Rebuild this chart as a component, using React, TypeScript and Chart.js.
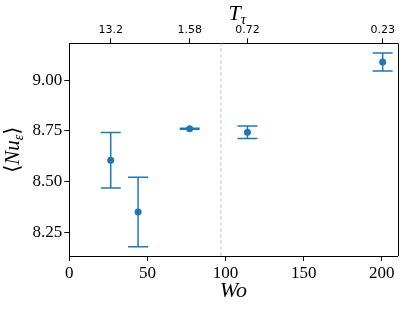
import React, { useEffect, useRef } from "react";
import { Chart, registerables } from "chart.js";

Chart.register(...registerables);

const woValues = [26.5, 44, 77, 114, 200.5];
const nuValues = [8.605, 8.35, 8.76, 8.743, 9.089];
const nuErrors = [0.137, 0.171, 0.003, 0.031, 0.044];
const xTicks = [0, 50, 100, 150, 200];
const yTicks = [8.25, 8.5, 8.75, 9.0];
const yTickLabels = ["8.25", "8.50", "8.75", "9.00"];
const topTickPositions = [26.5, 77, 114, 200.5];
const topTickLabels = ["13.2", "1.58", "0.72", "0.23"];
const thresholdWo = 97;
const xRange = [0, 210];
const yRange = [8.133, 9.181];

const C0 = "#1f77b4";
const SERIF = "'Liberation Serif', 'DejaVu Serif', serif";
const SANS = "'DejaVu Sans', sans-serif";

const errorBarPlugin = {
  id: "errorBars",
  beforeDatasetsDraw(chart: any) {
    const ctx = chart.ctx;
    const xs = chart.scales.x;
    const ys = chart.scales.y;
    ctx.save();
    ctx.strokeStyle = C0;
    ctx.lineWidth = 1.5;
    const cap = 10;
    woValues.forEach((wo, i) => {
      const px = xs.getPixelForValue(wo);
      const top = ys.getPixelForValue(nuValues[i] + nuErrors[i]);
      const bot = ys.getPixelForValue(nuValues[i] - nuErrors[i]);
      ctx.beginPath();
      ctx.moveTo(px, top);
      ctx.lineTo(px, bot);
      ctx.moveTo(px - cap, top);
      ctx.lineTo(px + cap, top);
      ctx.moveTo(px - cap, bot);
      ctx.lineTo(px + cap, bot);
      ctx.stroke();
    });
    ctx.restore();
  },
};

const labelPlugin = {
  id: "labels",
  afterDraw(chart: any) {
    const ctx = chart.ctx;
    const area = chart.chartArea;
    const cx = (area.left + area.right) / 2;
    const cy = (area.top + area.bottom) / 2;
    ctx.save();
    ctx.fillStyle = "#000";
    ctx.textBaseline = "alphabetic";
    // right spine
    ctx.strokeStyle = "#000";
    ctx.lineWidth = 1;
    ctx.beginPath();
    ctx.moveTo(Math.round(area.right) + 0.5, area.top);
    ctx.lineTo(Math.round(area.right) + 0.5, area.bottom);
    ctx.stroke();

    // bottom label Wo
    ctx.font = `italic 22px ${SERIF}`;
    ctx.textAlign = "center";
    ctx.fillText("Wo", cx, 297);

    // top label T_tau
    ctx.textAlign = "left";
    ctx.font = `italic 22px ${SERIF}`;
    const tW = ctx.measureText("T").width;
    ctx.font = `italic 15px ${SERIF}`;
    const sW = ctx.measureText("τ").width;
    const x0 = cx + 4 - (tW + sW) / 2;
    ctx.font = `italic 22px ${SERIF}`;
    ctx.fillText("T", x0, 20);
    ctx.font = `italic 15px ${SERIF}`;
    ctx.fillText("τ", x0 + tW, 24);

    // y label <Nu_eps>
    ctx.translate(19, cy);
    ctx.rotate(-Math.PI / 2);
    const big = `21px ${SERIF}`;
    const bigI = `italic 21px ${SERIF}`;
    const small = `italic 14px ${SERIF}`;
    const parts: [string, string, number][] = [
      ["⟨", big, 0],
      ["Nu", bigI, 0],
      ["ε", small, 4],
      ["⟩", big, 0],
    ];
    let total = 0;
    const widths = parts.map(([t, f]) => {
      ctx.font = f;
      const w = ctx.measureText(t).width;
      total += w;
      return w;
    });
    let x = -total / 2;
    parts.forEach(([t, f, dy], i) => {
      ctx.font = f;
      ctx.fillText(t, x, dy);
      x += widths[i];
    });
    ctx.restore();
  },
};

export default function App() {
  const ref = useRef<HTMLCanvasElement>(null);
  useEffect(() => {
    if (!ref.current) return;
    const tickGrid = {
      drawOnChartArea: false,
      drawTicks: true,
      tickLength: 5,
      tickColor: "#000",
      tickWidth: 1,
    };
    const border = { display: true, color: "#000", width: 1 };
    const chart = new Chart(ref.current, {
      type: "scatter",
      data: {
        datasets: [
          {
            data: [
              { x: thresholdWo, y: yRange[0] },
              { x: thresholdWo, y: yRange[1] },
            ],
            showLine: true,
            borderColor: "#cccccc",
            borderWidth: 1,
            borderDash: [4, 2],
            pointRadius: 0,
          },
          {
            data: woValues.map((w, i) => ({ x: w, y: nuValues[i] })),
            backgroundColor: C0,
            borderColor: C0,
            pointRadius: 3.5,
            borderWidth: 0,
          },
        ],
      },
      options: {
        animation: false,
        responsive: false,
        devicePixelRatio: 1,
        layout: { padding: { left: 0, right: 10.5, top: 0, bottom: 0 } },
        plugins: { legend: { display: false }, tooltip: { enabled: false } },
        scales: {
          x: {
            type: "linear",
            position: "bottom",
            min: xRange[0],
            max: xRange[1],
            afterBuildTicks: (s: any) => {
              s.ticks = xTicks.map((v) => ({ value: v }));
            },
            afterFit: (s: any) => {
              s.height = 53;
            },
            ticks: {
              font: { family: SERIF, size: 17 },
              color: "#000",
              padding: 2,
              maxRotation: 0,
              autoSkip: false,
              callback: (v: any) => String(v),
            },
            grid: tickGrid,
            border,
          },
          x2: {
            type: "linear",
            position: "top",
            min: xRange[0],
            max: xRange[1],
            afterBuildTicks: (s: any) => {
              s.ticks = topTickPositions.map((v) => ({ value: v }));
            },
            afterFit: (s: any) => {
              s.height = 43.3;
            },
            ticks: {
              font: { family: SANS, size: 11 },
              color: "#000",
              padding: 2,
              maxRotation: 0,
              autoSkip: false,
              callback: (_v: any, i: number) => topTickLabels[i],
            },
            grid: tickGrid,
            border,
          },
          y: {
            type: "linear",
            min: yRange[0],
            max: yRange[1],
            afterBuildTicks: (s: any) => {
              s.ticks = yTicks.map((v) => ({ value: v }));
            },
            afterFit: (s: any) => {
              s.width = 69.3;
            },
            ticks: {
              font: { family: SERIF, size: 17 },
              color: "#000",
              padding: 2,
              autoSkip: false,
              callback: (_v: any, i: number) => yTickLabels[i],
            },
            grid: tickGrid,
            border,
          },
        },
      },
      plugins: [errorBarPlugin, labelPlugin],
    });
    return () => chart.destroy();
  }, []);
  return (
    <div style={{ position: "fixed", left: 0, top: 0, width: 408, height: 309, background: "#fff" }}>
      <canvas ref={ref} width={408} height={309} style={{ width: 408, height: 309 }} />
    </div>
  );
}
